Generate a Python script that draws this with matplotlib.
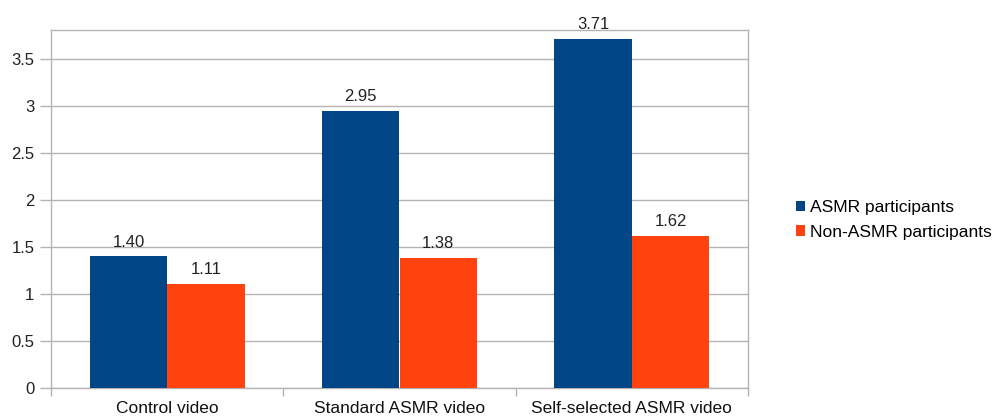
import matplotlib.pyplot as plt
import numpy as np

plt.rcParams['font.family'] = ['Liberation Sans', 'DejaVu Sans']

# 数据
categories = ['Control video', 'Standard ASMR video', 'Self-selected ASMR video']
asmr = [1.40, 2.95, 3.71]
non_asmr = [1.11, 1.38, 1.62]
series_names = ['ASMR participants', 'Non-ASMR participants']
colors = ['#004586', '#ff420e']

fig = plt.figure(figsize=(10.01, 4.19), dpi=100)
ax = fig.add_axes([51 / 1001, 31 / 419, 697 / 1001, 358 / 419])

x = np.arange(len(categories))
w = 1 / 3
b1 = ax.bar(x - w / 2, asmr, w, color=colors[0], label=series_names[0], zorder=3)
b2 = ax.bar(x + w / 2, non_asmr, w, color=colors[1], label=series_names[1], zorder=3)

# 数值标签
for bars, vals in ((b1, asmr), (b2, non_asmr)):
    for r, v in zip(bars, vals):
        ax.annotate('%.2f' % v, (r.get_x() + r.get_width() / 2, v),
                    xytext=(0, 5), textcoords='offset points',
                    ha='center', va='bottom', fontsize=12, color='#222222',
                    zorder=4)

ax.set_xlim(-0.5, 2.5)
ax.set_ylim(0, 3.81)
ax.set_yticks(np.arange(0, 3.6, 0.5))
ax.set_yticklabels(['0', '0.5', '1', '1.5', '2', '2.5', '3', '3.5'])
ax.yaxis.grid(True, color='#b3b3b3', linewidth=1, zorder=0)

# 类别刻度放在分组之间
ax.set_xticks([-0.5, 0.5, 1.5, 2.5])
ax.set_xticklabels([])
ax.set_xticks(x, minor=True)
ax.set_xticklabels(categories, minor=True, fontsize=12.5, color='#111111')
ax.tick_params(axis='x', which='minor', length=0, pad=9)
ax.tick_params(axis='x', which='major', length=6, color='#b3b3b3', width=1)
ax.tick_params(axis='y', length=8, color='#b3b3b3', width=1, labelsize=12,
               labelcolor='#222222', pad=4)

for s in ax.spines.values():
    s.set_color('#b3b3b3')
    s.set_linewidth(1)

ax.legend(loc='center left', bbox_to_anchor=(1.046, 0.47), frameon=False,
          fontsize=12.5, handlelength=0.55, handleheight=0.55, handletextpad=0.25,
          labelspacing=0.55)

fig.savefig('out.png', dpi=100)
